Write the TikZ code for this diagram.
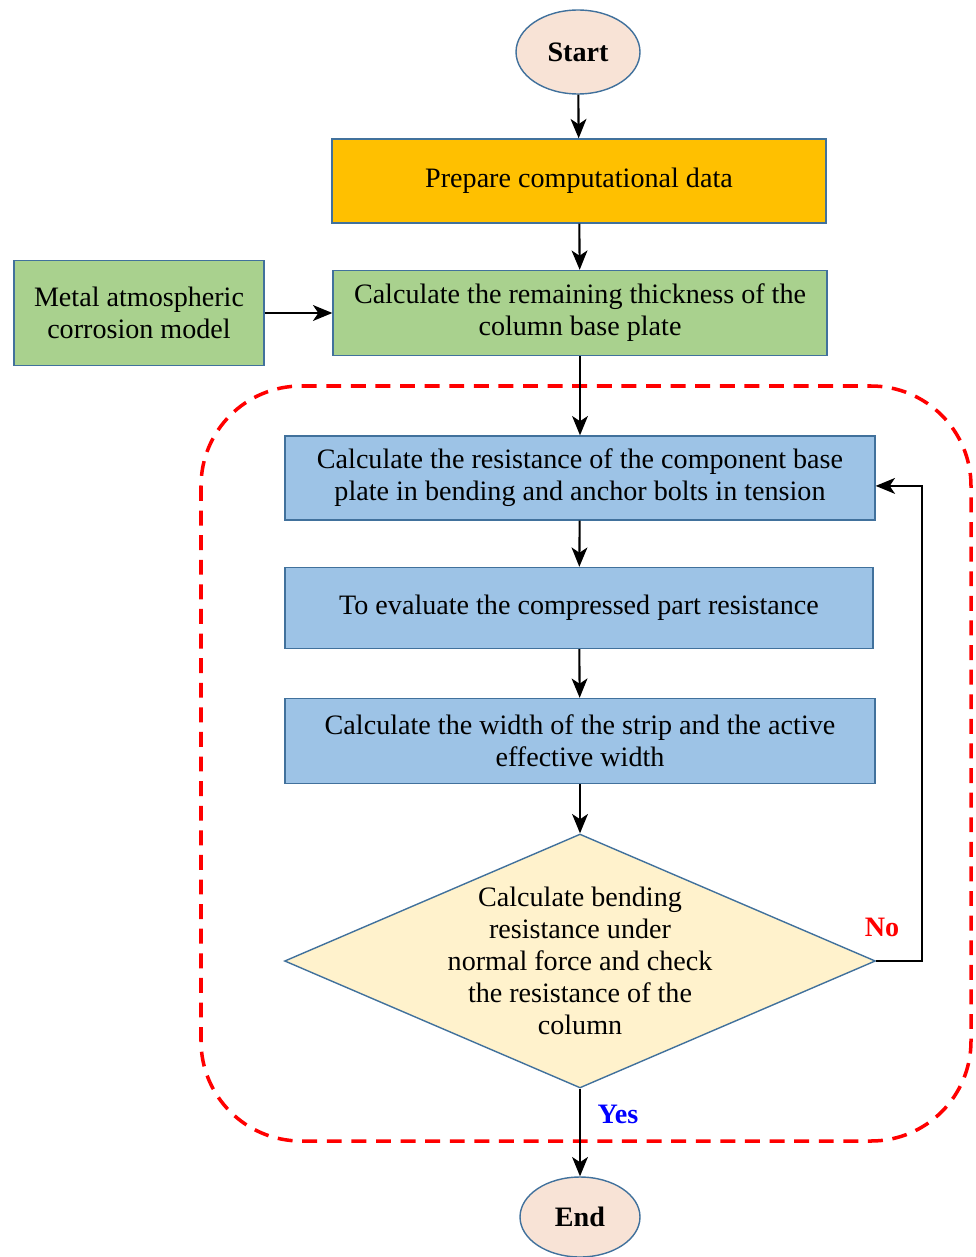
\documentclass[tikz,border=0pt]{standalone}
\usepackage{fontspec}
\setmainfont{Liberation Serif}
\usetikzlibrary{shapes.geometric,arrows.meta}
\definecolor{flowedge}{HTML}{41719C}
\definecolor{flowgold}{HTML}{FFC000}
\definecolor{flowgreen}{HTML}{A9D18E}
\definecolor{flowblue}{HTML}{9DC3E6}
\definecolor{flowcream}{HTML}{FFF2CC}
\definecolor{flowpeach}{HTML}{F8E3D6}

\begin{document}
\begin{tikzpicture}[x=0.02cm,y=-0.02cm,
  txt/.style={font=\fontsize{16}{18.2}\selectfont,align=center},
  box/.style={txt,draw=flowedge,line width=0.8pt,inner sep=0pt},
  term/.style={ellipse,draw=flowedge,line width=0.8pt,fill=flowpeach,font=\fontsize{16}{19}\selectfont\bfseries},
  go/.style={-{Stealth[length=11pt,width=9pt,inset=3pt]},line width=1.2pt}]
  \useasboundingbox (0,0) rectangle (976,1257);
  % loop region
  \draw[red,line width=2pt,dash pattern=on 8.5pt off 5.5pt,rounded corners=2cm] (201,386) rectangle (971,1141);
  \node[term,minimum width=2.48cm,minimum height=1.68cm] (start) at (578,52) {Start};
  \node[box,fill=flowgold,minimum width=9.88cm,minimum height=1.68cm] (prep) at (579,181) {Prepare computational data};
  \node[box,fill=flowgreen,minimum width=9.88cm,minimum height=1.7cm] (remain) at (580,313) {Calculate the remaining thickness of the\\column base plate};
  \node[box,fill=flowgreen,minimum width=5cm,minimum height=2.1cm] (metal) at (139,313) {Metal atmospheric\\corrosion model};
  \node[box,fill=flowblue,minimum width=11.8cm,minimum height=1.68cm] (bend) at (580,478) {Calculate the resistance of the component base\\plate in bending and anchor bolts in tension};
  \node[box,fill=flowblue,minimum width=11.76cm,minimum height=1.62cm] (comp) at (579,608) {To evaluate the compressed part resistance};
  \node[box,fill=flowblue,minimum width=11.8cm,minimum height=1.7cm] (strip) at (580,741) {Calculate the width of the strip and the active\\effective width};
  \node[diamond,draw=flowedge,line width=0.8pt,fill=flowcream,minimum width=11.82cm,minimum height=5.08cm,inner sep=0pt] (check) at (580,961) {};
  \node[txt] (checktxt) at (check) {Calculate bending\\resistance under\\normal force and check\\the resistance of the\\column};
  \node[term,minimum width=2.4cm,minimum height=1.6cm] (end) at (580,1217) {End};
  % connectors
  \draw[go] (start) -- (prep);
  \draw[go] (prep) -- (remain);
  \draw[go] (metal) -- (remain);
  \draw[go] (remain) -- (bend);
  \draw[go] (bend) -- (comp);
  \draw[go] (comp) -- (strip);
  \draw[go] (strip) -- (check);
  \draw[go] (check) -- (end);
  \draw[go] (check.east) -- ++(46,0) |- ([yshift=-4.5pt]bend.east);
  \node[red,font=\fontsize{16}{19}\selectfont\bfseries] (no) at (882,927) {No};
  \node[blue,font=\fontsize{16}{19}\selectfont\bfseries] (yes) at (618,1114) {Yes};
\end{tikzpicture}
\end{document}
